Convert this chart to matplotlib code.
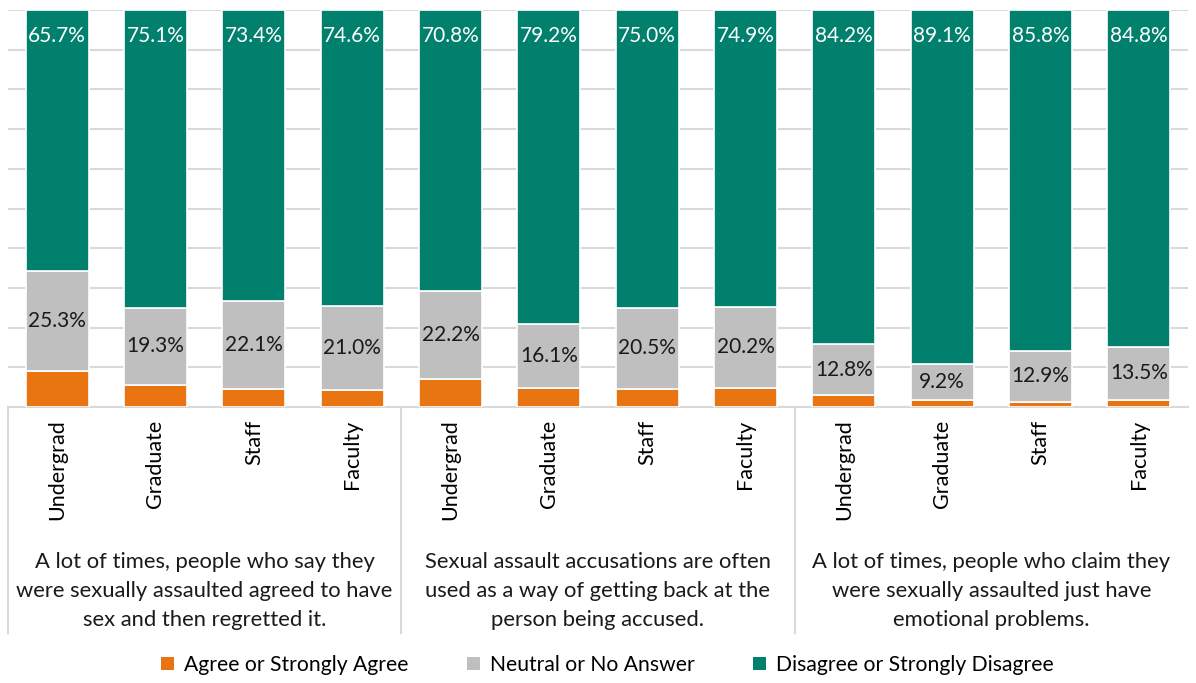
import numpy as np
import matplotlib
matplotlib.use("Agg")
import matplotlib.pyplot as plt
from matplotlib.patches import Patch

plt.rcParams['font.family'] = ['Lato', 'DejaVu Sans']

roles = ["Undergrad", "Graduate", "Staff", "Faculty"]
statements = [
    "A lot of times, people who say they\nwere sexually assaulted agreed to have\nsex and then regretted it.",
    "Sexual assault accusations are often\nused as a way of getting back at the\nperson being accused.",
    "A lot of times, people who claim they\nwere sexually assaulted just have\nemotional problems.",
]
series_names = ["Agree or Strongly Agree", "Neutral or No Answer",
                "Disagree or Strongly Disagree"]

agree = [9.0, 5.6, 4.5, 4.4, 7.0, 4.7, 4.5, 4.9, 3.0, 1.7, 1.3, 1.7]
neutral = [25.3, 19.3, 22.1, 21.0, 22.2, 16.1, 20.5, 20.2, 12.8, 9.2, 12.9, 13.5]
disagree = [65.7, 75.1, 73.4, 74.6, 70.8, 79.2, 75.0, 74.9, 84.2, 89.1, 85.8, 84.8]

colors = ["#E87511", "#BFBFBF", "#00806D"]
grid_c = "#D9D9D9"

fig = plt.figure(figsize=(11.96, 6.83), dpi=100)
ax = fig.add_axes([8/1196, 1 - 407/683, 1180/1196, 397/683])

x = np.arange(12)
w = 0.64
a = np.array(agree)
n = np.array(neutral)
d = np.array(disagree)

b1 = ax.bar(x, a, w, color=colors[0], edgecolor="white", linewidth=1.2, zorder=3)
b2 = ax.bar(x, n, w, bottom=a, color=colors[1], edgecolor="white", linewidth=1.2, zorder=3)
b3 = ax.bar(x, d, w, bottom=a + n, color=colors[2], edgecolor="white", linewidth=1.2, zorder=3)

ax.bar_label(b2, labels=[f"{v:.1f}%" for v in neutral], label_type="center",
             fontsize=15, color="#1a1a1a")
ax.bar_label(b3, labels=[f"{v:.1f}%" for v in disagree], label_type="edge",
             padding=-26, fontsize=15, color="white")

ax.set_xlim(-0.5, 11.5)
ax.set_ylim(0, 100)
ax.set_yticks(np.arange(0, 101, 10))
ax.set_yticklabels([])
ax.tick_params(axis="y", length=0)
ax.yaxis.grid(True, color=grid_c, linewidth=1.5, zorder=0)
ax.set_axisbelow(True)
for s in ["top", "right", "left"]:
    ax.spines[s].set_visible(False)
ax.spines["bottom"].set_color(grid_c)
ax.spines["bottom"].set_linewidth(1.5)

ax.set_xticks(x)
ax.set_xticklabels(roles * 3, rotation=90, fontsize=15.5, va="top", ha="center")
ax.tick_params(axis="x", length=0, pad=9)

# group separators and statements
trans = ax.get_xaxis_transform()
for xs in [-0.5, 3.5, 7.5]:
    ax.plot([xs, xs], [0, -0.57], transform=trans, color=grid_c,
            linewidth=1.5, clip_on=False)
for i, txt in enumerate(statements):
    ax.text(4 * i + 1.5, -0.463, txt, transform=trans, ha="center", va="center",
            fontsize=15.8, linespacing=1.55, color="#1a1a1a")

handles = [Patch(facecolor=c) for c in colors]
fig.legend(handles, series_names, loc="center", bbox_to_anchor=(0.508, 1 - 665/683),
           ncol=3, frameon=False, fontsize=15.2, handlelength=0.6, handleheight=0.6,
           handletextpad=0.5, columnspacing=2.75)

fig.savefig("out.png", dpi=100)
